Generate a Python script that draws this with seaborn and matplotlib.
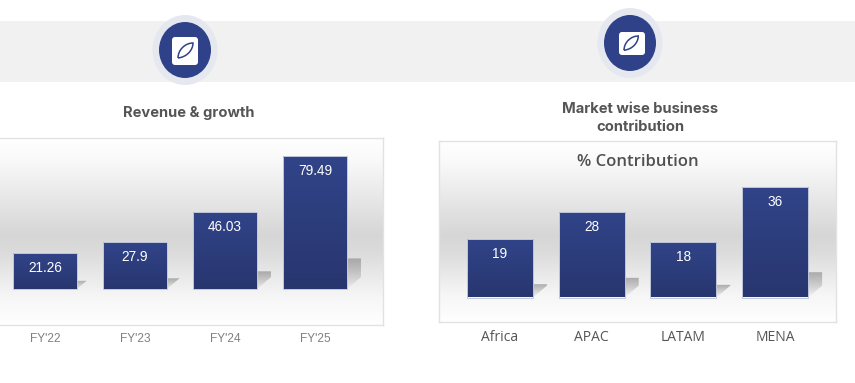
import numpy as np
import pandas as pd
import matplotlib
matplotlib.use('Agg')
import matplotlib.pyplot as plt
from matplotlib.colors import LinearSegmentedColormap
from matplotlib.patches import Ellipse, FancyBboxPatch, PathPatch, Polygon, Rectangle
from matplotlib.path import Path
import seaborn as sns

fy_labels = ["FY'22", "FY'23", "FY'24", "FY'25"]
revenue = [21.26, 27.9, 46.03, 79.49]
market_labels = ["Africa", "APAC", "LATAM", "MENA"]
contribution = [19, 28, 18, 36]

W, H = 855, 383
sns.set_theme(style='white')
plt.rcParams['font.family'] = ['Liberation Sans', 'DejaVu Sans']

bg_cmap = LinearSegmentedColormap.from_list(
    'panel', [(0, '#ffffff'), (0.12, '#f9f9f9'), (0.52, '#d6d6d6'), (0.62, '#dcdcdc'), (0.85, '#f6f6f6'), (1, '#ffffff')])
bar_cmap = LinearSegmentedColormap.from_list('bar', ['#314489', '#28366f'])


def draw_shadow(ax, left, right, value, bar_h_px, px_x, px_y):
    # skewed shadow behind the bar, cut off 14px right of it
    h = value * 0 + bar_h_px
    dx = min(0.27 * h, 14) * px_x
    shift = 0.27 * h * px_x
    top = 0.23 * h * px_y
    tip = right + dx
    poly = Polygon([(left, 0), (right, 0), (tip, (tip - right) / shift * top), (tip, top),
                    (left + shift, top)], closed=True, transform=ax.transData, fc='none', ec='none')
    ax.add_patch(poly)
    shade = np.zeros((64, 2, 4))
    shade[..., :3] = 0.62
    shade[..., 3] = np.linspace(0.85, 0.05, 64)[:, None]
    im = ax.imshow(shade, extent=(left, tip, 0, top), aspect='auto', zorder=1.5, interpolation='bilinear')
    im.set_clip_path(poly)


def draw_panel(rect, labels, values, x0, step, base, per_unit, width, tick_font, tick_size, tick_color, pad):
    l, t, r, b = rect
    ax = fig.add_axes([l / W, 1 - b / H, (r - l) / W, (b - t) / H])
    df = pd.DataFrame({'cat': labels, 'val': values})
    sns.barplot(data=df, x='cat', y='val', color='#2d3d7c', width=width, ax=ax)
    xlim = ((l - x0) / step, (r - x0) / step)
    ylim = ((base - b) / per_unit, (base - t) / per_unit)
    px_x, px_y = 1 / step, 1 / per_unit

    grad = np.linspace(0, 1, 256)[:, None]
    ax.imshow(grad, cmap=bg_cmap, extent=(*xlim, *ylim), aspect='auto', zorder=0, vmin=0, vmax=1)
    for bar, v in zip(ax.patches, values):
        x = bar.get_x()
        w = bar.get_width()
        draw_shadow(ax, x, x + w, v, v * per_unit, px_x, px_y)
        bar.set_facecolor('none')
        bar.set_edgecolor('#c3c9da')
        bar.set_linewidth(0.7)
        bar.set_zorder(4)
        im = ax.imshow(grad, cmap=bar_cmap, extent=(x, x + w, 0, v), aspect='auto', zorder=3)
        im.set_clip_path(bar)
        ax.annotate(f'{v:g}', (x + w / 2, v), xytext=(0, -10.5), textcoords='offset points',
                    ha='center', va='center', color='white', fontsize=9.8, zorder=5)
    ax.set_xlim(xlim)
    ax.set_ylim(ylim)
    ax.set_xlabel('')
    ax.set_ylabel('')
    ax.set_yticks([])
    ax.tick_params(axis='x', length=0, pad=pad)
    ax.set_xticks(range(len(labels)), labels, fontsize=tick_size, color=tick_color, family=tick_font)
    for spine in ax.spines.values():
        spine.set_color('#e2e2e2')
        spine.set_linewidth(1.0)
    return ax


def draw_badge(cx, cy, sq, leaf):
    bg.add_patch(Ellipse((cx, cy), 65, 70, fc='#e6e8ef', ec='none', zorder=2))
    bg.add_patch(Ellipse((cx, cy), 52, 56, fc='#2f4289', ec='none', zorder=3))
    x, y, w, h = sq
    bg.add_patch(FancyBboxPatch((x + 2, y + 2), w - 4, h - 4, boxstyle='round,pad=2,rounding_size=3',
                                fc='white', ec='none', zorder=4))
    ox, oy, s = leaf
    verts = [(0, 15), (0, 7), (7, 0), (15, 0), (15, 7), (9, 14), (0, 15)]
    verts = [(ox + vx * s, oy + vy * s) for vx, vy in verts]
    codes = [Path.MOVETO, Path.CURVE4, Path.CURVE4, Path.CURVE4, Path.CURVE4, Path.CURVE4, Path.CURVE4]
    bg.add_patch(PathPatch(Path(verts, codes), fc='none', ec='#2f4289', lw=1.1, zorder=5))


fig = plt.figure(figsize=(W / 100, H / 100), dpi=100, facecolor='white')

# full figure layer in pixel units for the band, badges and headings
bg = fig.add_axes([0, 0, 1, 1], zorder=0)
bg.set_xlim(0, W)
bg.set_ylim(H, 0)
bg.axis('off')
bg.add_patch(Rectangle((0, 21), W, 61, fc='#f1f1f1', ec='none', zorder=1))
draw_badge(185, 50, (172, 37, 26, 28), (178, 43, 1.0))
draw_badge(630, 43, (619, 32, 26, 23), (624, 36, 0.95))

bg.text(188.5, 113, 'Revenue & growth', ha='center', va='center', fontsize=10.6, fontweight='bold',
        color='#555555', family='Inter')
bg.text(640, 109, 'Market wise business', ha='center', va='center', fontsize=10.6, fontweight='bold',
        color='#555555', family='Inter')
bg.text(640, 127, 'contribution', ha='center', va='center', fontsize=10.6, fontweight='bold',
        color='#555555', family='Inter')

ax1 = draw_panel((-3, 138, 383, 325), fy_labels, revenue, 45, 90, 289, 1.673, 0.711,
                 'Liberation Sans', 8.6, '#808080', 6.0)
ax2 = draw_panel((439, 141, 836, 322), market_labels, contribution, 500, 91.7, 297.5, 3.056, 0.72,
                 'Open Sans', 10, '#555555', 6.0)
ax2.text(0.5, 0.885, '% Contribution', transform=ax2.transAxes, ha='center', va='center', fontsize=12,
         fontweight='semibold', color='#505050', family='Open Sans', zorder=6)

fig.savefig('out.png', dpi=100)
